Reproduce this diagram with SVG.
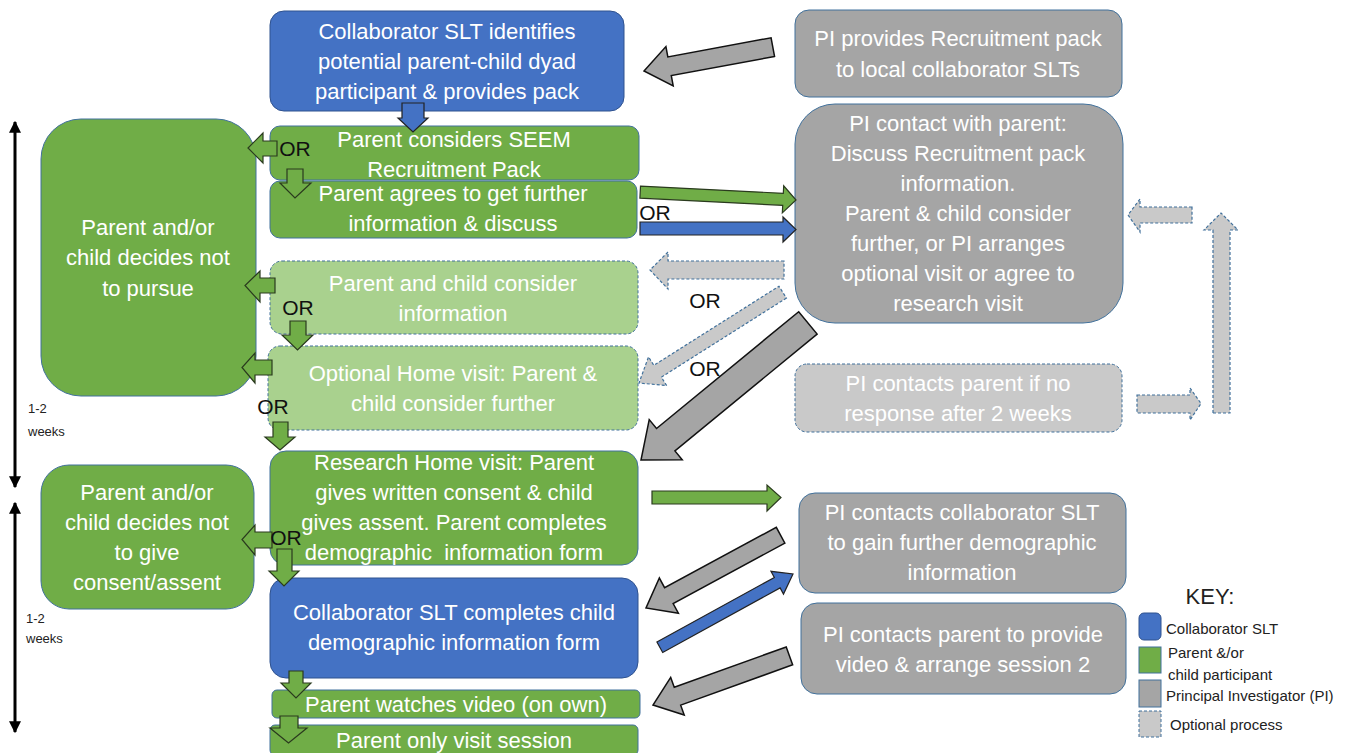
<svg xmlns="http://www.w3.org/2000/svg" width="1350" height="753" viewBox="0 0 1350 753">
<style>
.t{font-family:"Liberation Sans",Arial,sans-serif;font-size:22px;fill:#fff;text-anchor:middle;dominant-baseline:central}
.or{font-family:"Liberation Sans",Arial,sans-serif;font-size:21px;fill:#111;text-anchor:middle;dominant-baseline:central}
.sm{font-family:"Liberation Sans",Arial,sans-serif;font-size:13px;fill:#222}
.k{font-family:"Liberation Sans",Arial,sans-serif;font-size:15px;fill:#222}
.blue{fill:#4472C4;stroke:#2F528F;stroke-width:1}
.green{fill:#70AD47;stroke:#41719C;stroke-width:1}
.lgreen{fill:#A9D18E;stroke:#41719C;stroke-width:1;stroke-dasharray:3 2}
.gray{fill:#A5A5A5;stroke:#41719C;stroke-width:1}
.lgray{fill:#C9C9C9;stroke:#41719C;stroke-width:1;stroke-dasharray:3 2}
.ag{fill:#70AD47;stroke:#2A3A1E;stroke-width:1.2}
.ab{fill:#4472C4;stroke:#222;stroke-width:1.2}
.ay{fill:#A5A5A5;stroke:#111;stroke-width:1.5}
.al{fill:#C9C9C9;stroke:#41719C;stroke-width:1.2;stroke-dasharray:3 2}
</style>
<defs>
<marker id="ah" viewBox="0 0 10 10" refX="9" refY="5" markerWidth="4" markerHeight="4" orient="auto-start-reverse"><path d="M0,0 L10,5 L0,10 z" fill="#000"/></marker>
</defs>

<g id="n1"><rect class="blue" x="270" y="11" width="354" height="100" rx="14"/>
<text class="t" x="447" y="31">Collaborator SLT identifies</text><text class="t" x="447" y="61">potential parent-child dyad</text><text class="t" x="447" y="91">participant &amp; provides pack</text></g>
<g id="n2"><rect class="green" x="270" y="126" width="369" height="54" rx="10"/>
<text class="t" x="454" y="139">Parent considers SEEM</text><text class="t" x="454" y="169">Recruitment Pack</text></g>
<g id="n3"><rect class="green" x="270" y="181" width="367" height="57" rx="10"/>
<text class="t" x="453" y="193">Parent agrees to get further</text><text class="t" x="453" y="223">information &amp; discuss</text></g>
<g id="n4"><rect class="lgreen" x="270" y="261" width="368" height="73" rx="12"/>
<text class="t" x="453" y="283">Parent and child consider</text><text class="t" x="453" y="313">information</text></g>
<g id="n5"><rect class="lgreen" x="268" y="346" width="370" height="84" rx="12"/>
<text class="t" x="453" y="373">Optional Home visit: Parent &amp;</text><text class="t" x="453" y="403">child consider further</text></g>
<g id="n6"><rect class="green" x="270" y="451" width="368" height="114" rx="16"/>
<text class="t" x="454" y="462">Research Home visit: Parent</text><text class="t" x="454" y="492">gives written consent &amp; child</text><text class="t" x="454" y="522">gives assent. Parent completes</text><text class="t" x="454" y="552">demographic&#160; information form</text></g>
<g id="n7"><rect class="blue" x="270" y="578" width="368" height="100" rx="16"/>
<text class="t" x="454" y="612">Collaborator SLT completes child</text><text class="t" x="454" y="642">demographic information form</text></g>
<g id="n8"><rect class="green" x="272" y="690" width="368" height="28" rx="5"/>
<text class="t" x="456" y="704">Parent watches video (on own)</text></g>
<g id="n9"><rect class="green" x="270" y="725" width="368" height="30" rx="5"/>
<text class="t" x="454" y="740">Parent only visit session</text></g>
<g id="n10"><rect class="green" x="41" y="119" width="215" height="277" rx="40"/>
<text class="t" x="148" y="227">Parent and/or</text><text class="t" x="148" y="257">child decides not</text><text class="t" x="148" y="288">to pursue</text></g>
<g id="n11"><rect class="green" x="41" y="465" width="213" height="144" rx="28"/>
<text class="t" x="147" y="492">Parent and/or</text><text class="t" x="147" y="522">child decides not</text><text class="t" x="147" y="552">to give</text><text class="t" x="147" y="582">consent/assent</text></g>
<g id="n12"><rect class="gray" x="795" y="10" width="327" height="87" rx="14"/>
<text class="t" x="958" y="38">PI provides Recruitment pack</text><text class="t" x="958" y="69">to local collaborator SLTs</text></g>
<g id="n13"><rect class="gray" x="795" y="104" width="328" height="219" rx="40"/>
<text class="t" x="958" y="123">PI contact with parent:</text><text class="t" x="958" y="153">Discuss Recruitment pack</text><text class="t" x="958" y="183">information.</text><text class="t" x="958" y="213">Parent &amp; child consider</text><text class="t" x="958" y="243">further, or PI arranges</text><text class="t" x="958" y="273">optional visit or agree to</text><text class="t" x="958" y="303">research visit</text></g>
<g id="n14"><rect class="lgray" x="795" y="364" width="327" height="68" rx="12"/>
<text class="t" x="958" y="383">PI contacts parent if no</text><text class="t" x="958" y="413">response after 2 weeks</text></g>
<g id="n15"><rect class="gray" x="799" y="493" width="327" height="100" rx="16"/>
<text class="t" x="962" y="512">PI contacts collaborator SLT</text><text class="t" x="962" y="542">to gain further demographic</text><text class="t" x="962" y="572">information</text></g>
<g id="n16"><rect class="gray" x="801" y="603" width="325" height="91" rx="16"/>
<text class="t" x="963" y="634">PI contacts parent to provide</text><text class="t" x="963" y="664">video &amp; arrange session 2</text></g>

<g id="key">
<text x="1210" y="596" style="font-family:'Liberation Sans',Arial,sans-serif;font-size:22px;fill:#222;text-anchor:middle;dominant-baseline:central">KEY:</text>
<rect class="blue" x="1139" y="613" width="22" height="27" rx="5"/>
<text class="k" x="1166" y="634">Collaborator SLT</text>
<rect class="green" x="1139" y="647" width="22" height="26"/>
<text class="k" x="1168" y="658">Parent &amp;/or</text><text class="k" x="1168" y="680">child participant</text>
<rect class="gray" x="1139" y="680" width="22" height="27"/>
<text class="k" x="1166" y="701">Principal Investigator (PI)</text>
<rect class="lgray" x="1139" y="711" width="22" height="26"/>
<text class="k" x="1170" y="730">Optional process</text>
</g>

<g id="timeline">
<line x1="15" y1="122" x2="15" y2="487" stroke="#000" stroke-width="3" marker-start="url(#ah)" marker-end="url(#ah)"/>
<line x1="15" y1="503" x2="15" y2="732" stroke="#000" stroke-width="3" marker-start="url(#ah)" marker-end="url(#ah)"/>
<text class="sm" x="28" y="413">1-2</text><text class="sm" x="28" y="436">weeks</text>
<text class="sm" x="26" y="623">1-2</text><text class="sm" x="26" y="643">weeks</text>
</g>

<g id="connectors">
<polygon class="ab" points="402,103 424,103 424,118 428,118 413,132 398,118 402,118"/>
<polygon class="ag" points="277,141 263,141 263,133 248,148 263,163 263,156 277,156"/>
<polygon class="ag" points="287,169 303,169 303,183 311,183 295,198 280,183 287,183"/>
<polygon class="ag" transform="translate(796,200) rotate(2.9)" points="-156,-6 -13,-6 -13,-13.5 0,0 -13,13.5 -13,6 -156,6"/>
<polygon class="ab" points="640,222 783,222 783,217 796,229.5 783,242 783,235 640,235"/>
<polygon class="al" points="784,261 668,261 668,252 650,270 668,289 668,279 784,279"/>
<polygon class="al" transform="translate(639,383) rotate(147.7)" points="-170,-7 -22,-7 -22,-17 0,0 -22,17 -22,7 -170,7"/>
<polygon class="ay" transform="translate(641,460) rotate(140.6)" points="-216,-14.5 -32,-14.5 -32,-26 0,0 -32,26 -32,14.5 -216,14.5"/>
<polygon class="ay" transform="translate(644,71) rotate(169.5)" points="-131,-9.5 -26,-9.5 -26,-20 0,0 -26,20 -26,9.5 -131,9.5"/>
<polygon class="ag" points="652,491 767,491 767,485 781,497.5 767,511 767,504 652,504"/>
<polygon class="ay" transform="translate(646,608) rotate(151.6)" points="-153,-9 -26,-9 -26,-20 0,0 -26,20 -26,9 -153,9"/>
<polygon class="ab" transform="translate(793,574) rotate(-28.8)" points="-152,-6 -18,-6 -18,-13 0,0 -18,13 -18,6 -152,6"/>
<polygon class="ay" transform="translate(653,705) rotate(160.2)" points="-145,-9.5 -26,-9.5 -26,-20 0,0 -26,20 -26,9.5 -145,9.5"/>
<polygon class="ag" points="275,278 260,278 260,271 245,285.5 260,302 260,293 275,293"/>
<polygon class="ag" points="290,321 306,321 306,335 313,335 297.5,350 282,335 290,335"/>
<polygon class="ag" points="272,360 255,360 255,353 242,367.5 255,383 255,375 272,375"/>
<polygon class="ag" points="273,422 288,422 288,437 295,437 280,450 265,437 273,437"/>
<polygon class="ag" points="272,532 255,532 255,525 242,539.5 255,555 255,548 272,548"/>
<polygon class="ag" points="277,549 292,549 292,571 299,571 284,586 269,571 277,571"/>
<polygon class="ag" points="289,671 303,671 303,683 311,683 296,698 281,683 289,683"/>
<polygon class="ag" points="280,716 298,716 298,728 307,728 288.5,743 270,728 280,728"/>
<polygon class="al" points="1192,207 1140,207 1140,199 1128,215 1140,232 1140,223 1192,223"/>
<polygon class="al" points="1213,413 1230,413 1230,230 1238,230 1221,213 1204,230 1213,230"/>
<polygon class="al" points="1137,395 1190,395 1190,388 1201,403.5 1190,420 1190,413 1137,413"/>
<text class="or" x="295" y="148">OR</text>
<text class="or" x="655" y="212">OR</text>
<text class="or" x="705" y="300">OR</text>
<text class="or" x="705" y="368">OR</text>
<text class="or" x="298" y="307">OR</text>
<text class="or" x="273" y="406">OR</text>
<text class="or" x="286" y="537">OR</text>
</g>
</svg>
